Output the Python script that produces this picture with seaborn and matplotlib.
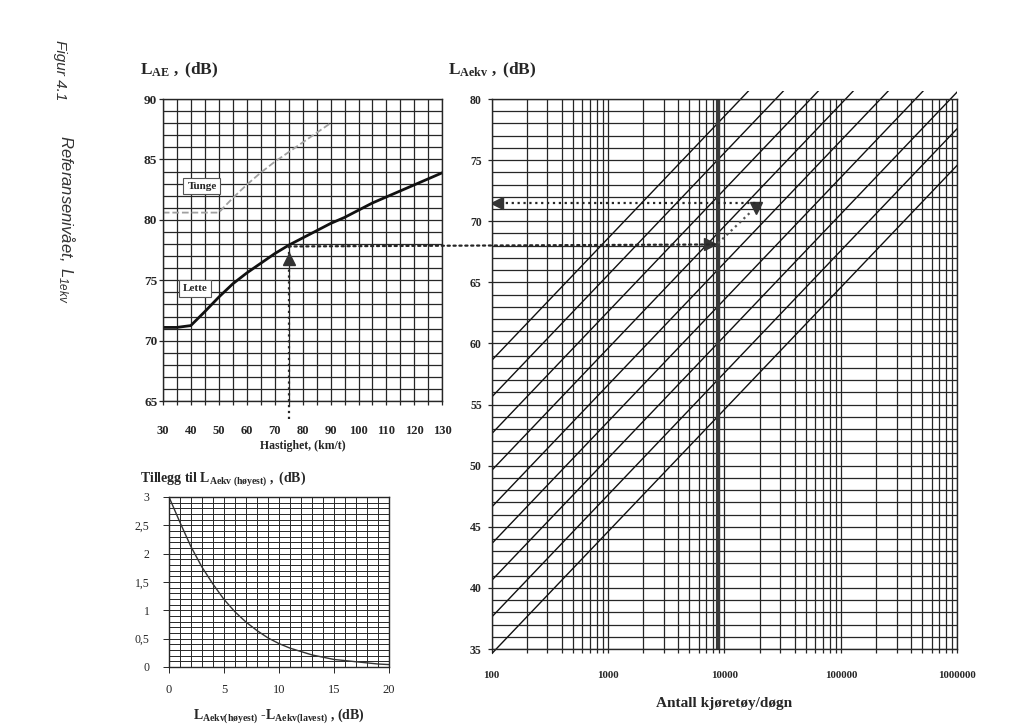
import numpy as np
import pandas as pd
import matplotlib
matplotlib.use("Agg")
import matplotlib.pyplot as plt
from matplotlib.patches import ConnectionPatch, Rectangle
from matplotlib.ticker import MultipleLocator, LogLocator, FixedLocator, NullFormatter
import seaborn as sns

# --- values ---
# L_AE against speed
speed = [30, 35, 40, 45, 50, 55, 60, 65, 70, 75, 80, 85, 90, 95, 100, 105, 110, 115, 120, 125, 130]
lae_lette = [71.1, 71.1, 71.25, 72.4, 73.6, 74.7, 75.6, 76.4, 77.2, 77.9, 78.5, 79.1, 79.7, 80.2,
             80.8, 81.4, 81.9, 82.4, 82.9, 83.4, 83.9]
speed_tunge = [30, 50, 55, 60, 65, 70, 75, 80, 85, 90]
lae_tunge = [80.6, 80.6, 81.8, 82.9, 83.9, 84.8, 85.6, 86.4, 87.2, 88.0]

# L_Aekv against traffic (straight lines in log space, read at both ends)
traffic_ends = [100, 1000000]
leq_at_100 = [34.6, 37.6, 40.6, 43.6, 46.6, 49.6, 52.6, 55.6, 58.6]
leq_at_1e6 = [74.6, 77.6, 80.6, 83.6, 86.6, 89.6, 92.6, 95.6, 98.6]
aadt_mark = 8800

# worked example drawn with dotted arrows
ex_speed = 75
ex_lae = 77.8
ex_leq = 68.1
ex_leq_top = 71.5
ex_n_top = 18500

# correction for adding two levels
diff = [0, 1, 2, 3, 4, 5, 6, 7, 8, 9, 10, 11, 12, 13, 14, 15, 16, 17, 18, 19, 20]
tillegg = [3.0, 2.55, 2.12, 1.76, 1.46, 1.19, 0.97, 0.79, 0.64, 0.51, 0.41, 0.33, 0.27,
           0.21, 0.17, 0.13, 0.11, 0.09, 0.07, 0.05, 0.04]

sns.set_theme(style="white")
plt.rcParams['font.family'] = ['Liberation Serif', 'DejaVu Serif']
plt.rcParams['mathtext.fontset'] = 'custom'
plt.rcParams['mathtext.rm'] = 'Liberation Serif'
plt.rcParams['mathtext.bf'] = 'Liberation Serif:bold'
plt.rcParams['mathtext.it'] = 'Liberation Serif:italic'
plt.rcParams['mathtext.sf'] = 'Liberation Sans:italic'

INK = '#262626'

fig = plt.figure(figsize=(10.24, 7.28), dpi=100)
ax1 = fig.add_axes([0.159, 0.449, 0.273, 0.415])
ax2 = fig.add_axes([0.480, 0.1085, 0.455, 0.7555])
ax3 = fig.add_axes([0.165, 0.084, 0.215, 0.2335])


def paper_grid(ax, lw=0.9):
    ax.grid(which='both', color=INK, lw=lw)
    ax.set_axisbelow(True)
    for s in ax.spines.values():
        s.set_visible(True)
        s.set_color(INK)
        s.set_linewidth(1.0)
    ax.tick_params(which='both', bottom=True, left=True, direction='out',
                   color=INK, width=lw)


# ---------- top left: L_AE vs speed ----------
ax1.set_xlim(30, 130)
ax1.set_ylim(65, 90)
paper_grid(ax1)
sns.lineplot(x=speed, y=lae_lette, ax=ax1, color='#111111', lw=2.0)
sns.lineplot(x=speed_tunge, y=lae_tunge, ax=ax1, color='#a0a0a0', lw=1.3, linestyle='--')
ax1.set_xticks(range(30, 131, 10))
ax1.xaxis.set_minor_locator(MultipleLocator(5))
ax1.set_yticks(range(65, 91, 5))
ax1.yaxis.set_minor_locator(MultipleLocator(1))
ax1.tick_params(axis='x', which='major', length=3, pad=14, labelsize=9)
ax1.tick_params(axis='x', which='minor', length=3)
ax1.tick_params(axis='y', which='major', length=3, pad=1, labelsize=9.5)
ax1.tick_params(axis='y', which='minor', length=0)
for lbl in ax1.get_xticklabels() + ax1.get_yticklabels():
    lbl.set_fontweight('bold')
ax1.set_xlabel("Hastighet, (km/t)", fontweight='bold', fontsize=8.5, labelpad=2)
ax1.set_ylabel("")

box = dict(boxstyle='square,pad=0.35', fc='white', ec='#555555', lw=0.8)
ax1.text(44, 82.8, "Tunge", fontsize=8, fontweight='bold', ha='center', va='center', bbox=box)
ax1.text(41.5, 74.3, "Lette", fontsize=8, fontweight='bold', ha='center', va='center', bbox=box)

# vertical dotted arrow up to the curve
ax1.plot([ex_speed, ex_speed], [63.5, ex_lae], ls=':', lw=1.6, color=INK, clip_on=False)
ax1.plot([ex_speed], [76.75], marker='^', ms=8, color='#333333', clip_on=False)

# ---------- right: L_Aekv vs traffic ----------
ax2.set_xscale('log')
ax2.set_xlim(100, 1000000)
ax2.set_ylim(35, 80)
paper_grid(ax2)
rows = []
for i, (a, b) in enumerate(zip(leq_at_100, leq_at_1e6)):
    rows.append((i, traffic_ends[0], a))
    rows.append((i, traffic_ends[1], b))
lines_df = pd.DataFrame(rows, columns=['line', 'N', 'Leq'])
sns.lineplot(data=lines_df, x='N', y='Leq', units='line', estimator=None,
             color='#111111', lw=1.0, ax=ax2, legend=False)
clip = Rectangle((0, -0.012), 1, 1.027, transform=ax2.transAxes)
for ln in ax2.get_lines():
    ln.set_clip_path(clip)

ax2.axvline(aadt_mark, color='#3a3a3a', lw=3.0)

ax2.xaxis.set_major_locator(FixedLocator([100, 1000, 10000, 100000, 1000000]))
ax2.xaxis.set_minor_locator(LogLocator(base=10, subs=range(2, 10), numticks=20))
ax2.xaxis.set_minor_formatter(NullFormatter())
ax2.set_xticklabels(["100", "1000", "10000", "100000", "1000000"])
ax2.set_yticks(range(35, 81, 5))
ax2.yaxis.set_minor_locator(MultipleLocator(1))
ax2.tick_params(axis='x', which='both', length=3, pad=13, labelsize=7.8)
ax2.tick_params(axis='y', which='major', length=3, pad=4, labelsize=8.5)
ax2.tick_params(axis='y', which='minor', length=0)
for lbl in ax2.get_xticklabels() + ax2.get_yticklabels():
    lbl.set_fontweight('bold')
ax2.set_xlabel("Antall kjøretøy/døgn", fontweight='bold', fontsize=11, labelpad=12)
ax2.set_ylabel("")

# dotted route of the worked example
con = ConnectionPatch(xyA=(ex_speed, ex_lae), coordsA=ax1.transData,
                      xyB=(aadt_mark, ex_leq), coordsB=ax2.transData,
                      ls=':', lw=1.6, color=INK)
fig.add_artist(con)
ax2.plot([7500], [ex_leq], marker='>', ms=8, color='#333333')
ax2.plot([aadt_mark, 17000], [ex_leq + 0.1, 70.8], ls=':', lw=1.6, color='#555555')
ax2.plot([ex_n_top], [71.1], marker='v', ms=8, color='#333333')
ax2.plot([105, 20000], [ex_leq_top, ex_leq_top], ls=':', lw=1.6, color=INK)
ax2.plot([112], [ex_leq_top], marker='<', ms=8, color='#333333')

# ---------- bottom left: correction curve ----------
ax3.set_xlim(0, 20)
ax3.set_ylim(0, 3)
paper_grid(ax3, lw=0.7)
sns.lineplot(x=diff, y=tillegg, ax=ax3, color='#333333', lw=1.0)
ax3.set_xticks(range(0, 21, 5))
ax3.xaxis.set_minor_locator(MultipleLocator(1))
ax3.set_yticks([0, 0.5, 1, 1.5, 2, 2.5, 3])
ax3.set_yticklabels(["0", "0,5", "1", "1,5", "2", "2,5", "3"])
ax3.yaxis.set_minor_locator(MultipleLocator(0.1))
ax3.tick_params(axis='x', which='major', length=4, pad=8, labelsize=9)
ax3.tick_params(axis='x', which='minor', length=0)
ax3.tick_params(axis='y', which='major', length=4, pad=10, labelsize=8.5)
ax3.tick_params(axis='y', which='minor', length=0)
ax3.set_xlabel(r"$\mathbf{L_{Aekv(høyest)}}$ -$\mathbf{L_{Aekv(lavest)}}$ , (dB)",
               fontweight='bold', fontsize=10, labelpad=8)
ax3.set_ylabel("")

# ---------- titles and side caption ----------
fig.text(140 / 1024, 1 - 70 / 728, r"$\mathbf{L_{AE}\ ,\ (dB)}$", fontsize=12.5, va='center')
fig.text(448 / 1024, 1 - 70 / 728, r"$\mathbf{L_{Aekv}\ ,\ (dB)}$", fontsize=12.5, va='center')
fig.text(140 / 1024, 1 - 479 / 728, r"$\mathbf{Tillegg\ til\ L_{Aekv\ (høyest)}\ ,\ (dB)}$",
         fontsize=10, va='center')

fig.text(60 / 1024, 1 - 40 / 728, "Figur 4.1", rotation=-90, ha='center', va='top',
         fontsize=11, family=['Liberation Sans', 'DejaVu Sans'], style='italic', color='#333333')
fig.text(66 / 1024, 1 - 135 / 728, r"$\mathsf{Referanseniv\aa et,\ L_{1ekv}}$", rotation=-90,
         ha='center', va='top', fontsize=12, color='#333333')

fig.savefig("out.png", dpi=100, facecolor='white')
